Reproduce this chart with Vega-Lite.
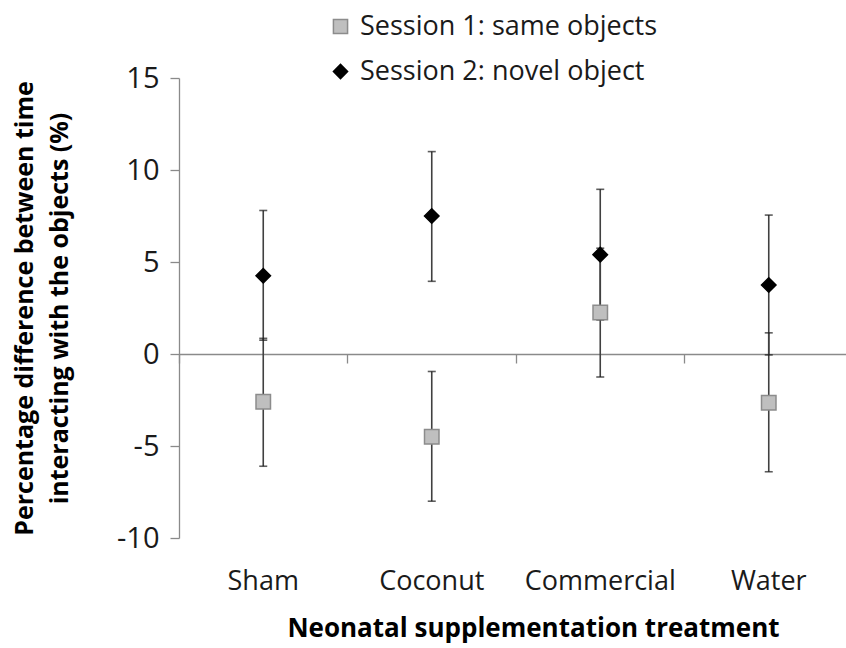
{
  "$schema": "https://vega.github.io/schema/vega-lite/v6.json",
  "width": 674,
  "height": 460,
  "autosize": {"type": "none"},
  "padding": {"left": 179, "top": 78, "right": 0, "bottom": 110},
  "background": "white",
  "config": {
    "view": {"stroke": null},
    "font": "Open Sans",
    "axis": {"grid": false}
  },
  "data": {
    "values": [
      {"treatment": "Sham", "session": "Session 1: same objects", "mean": -2.6, "lo": -6.1, "hi": 0.85},
      {"treatment": "Sham", "session": "Session 2: novel object", "mean": 4.25, "lo": 0.75, "hi": 7.8},
      {"treatment": "Coconut", "session": "Session 1: same objects", "mean": -4.5, "lo": -8.0, "hi": -0.95},
      {"treatment": "Coconut", "session": "Session 2: novel object", "mean": 7.5, "lo": 3.95, "hi": 11.0},
      {"treatment": "Commercial", "session": "Session 1: same objects", "mean": 2.25, "lo": -1.25, "hi": 5.75},
      {"treatment": "Commercial", "session": "Session 2: novel object", "mean": 5.4, "lo": 1.85, "hi": 8.95},
      {"treatment": "Water", "session": "Session 1: same objects", "mean": -2.65, "lo": -6.4, "hi": 1.15},
      {"treatment": "Water", "session": "Session 2: novel object", "mean": 3.75, "lo": -0.05, "hi": 7.55}
    ]
  },
  "encoding": {
    "x": {
      "field": "treatment",
      "type": "nominal",
      "sort": ["Sham", "Coconut", "Commercial", "Water"],
      "scale": {"type": "band", "paddingInner": 0, "paddingOuter": 0},
      "axis": {
        "title": "Neonatal supplementation treatment",
        "offset": -184,
        "bandPosition": 0,
        "labelAngle": 0,
        "labelAlign": "center",
        "labelDx": 84,
        "labelPadding": 205,
        "labelFontSize": 27,
        "labelColor": "#1a1a1a",
        "labelLimit": 300,
        "labelOverlap": false,
        "domainColor": "#8a8a8a",
        "domainWidth": 1.3,
        "tickColor": "#8a8a8a",
        "tickWidth": 1.3,
        "tickSize": 9,
        "titleFontSize": 26,
        "titleFontWeight": "bold",
        "titleColor": "#000000",
        "titleBaseline": "top",
        "titleAlign": "center",
        "titleX": 354,
        "titleY": 261
      }
    }
  },
  "layer": [
    {
      "mark": {"type": "rule", "color": "#404040", "strokeWidth": 1.6},
      "encoding": {
        "y": {
          "field": "lo",
          "type": "quantitative",
          "scale": {"domain": [-10, 15], "nice": false},
          "axis": {
            "values": [-10, -5, 0, 5, 10, 15],
            "labelExpr": "datum.value",
            "title": ["Percentage difference between time", "interacting with the objects (%)"],
            "titleFontSize": 25,
            "titleFontWeight": "bold",
            "titleColor": "#000000",
            "titleLineHeight": 35,
            "titleAngle": -90,
            "titleAlign": "center",
            "titleBaseline": "top",
            "titleX": -167,
            "titleY": 230,
            "labelFontSize": 29,
            "labelColor": "#1a1a1a",
            "labelPadding": 11,
            "domainColor": "#8a8a8a",
            "domainWidth": 1.3,
            "tickColor": "#8a8a8a",
            "tickWidth": 1.3,
            "tickSize": 9
          }
        },
        "y2": {"field": "hi"}
      }
    },
    {
      "mark": {"type": "tick", "color": "#1a1a1a", "thickness": 1.6, "size": 8},
      "encoding": {"y": {"field": "lo", "type": "quantitative"}}
    },
    {
      "mark": {"type": "tick", "color": "#1a1a1a", "thickness": 1.6, "size": 8},
      "encoding": {"y": {"field": "hi", "type": "quantitative"}}
    },
    {
      "mark": {"type": "point", "filled": true, "opacity": 1, "strokeWidth": 1.5, "size": 210},
      "encoding": {
        "y": {"field": "mean", "type": "quantitative"},
        "shape": {
          "field": "session",
          "type": "nominal",
          "scale": {"range": ["square", "diamond"]},
          "legend": {
            "title": null,
            "orient": "none",
            "legendX": 148,
            "legendY": -65,
            "padding": 0,
            "labelFontSize": 27,
            "labelColor": "#1a1a1a",
            "labelOffset": 6,
            "labelLimit": 400,
            "rowPadding": 17,
            "symbolSize": 200,
            "symbolStrokeWidth": 1.5
          }
        },
        "fill": {
          "field": "session",
          "type": "nominal",
          "scale": {"range": ["#bfbfbf", "#000000"]}
        },
        "stroke": {
          "field": "session",
          "type": "nominal",
          "scale": {"range": ["#8c8c8c", "#000000"]}
        }
      }
    }
  ]
}
